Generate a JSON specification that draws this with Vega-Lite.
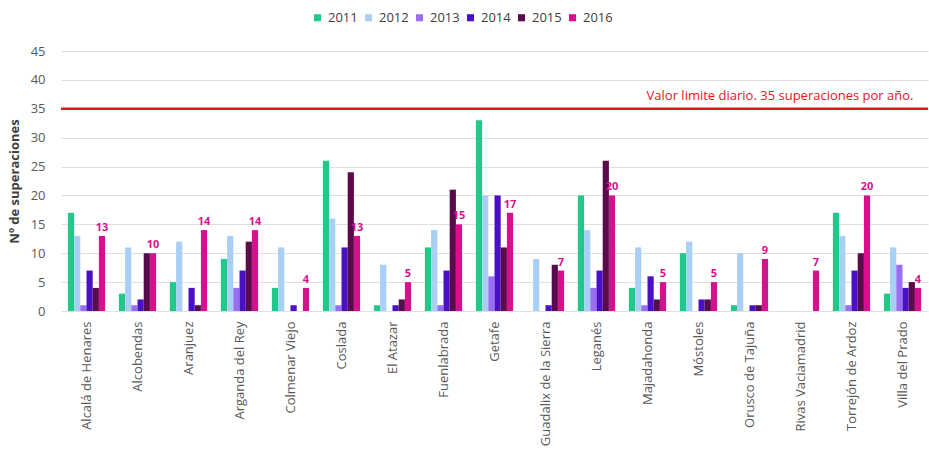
{
  "$schema": "https://vega.github.io/schema/vega-lite/v6.json",
  "width": 867,
  "height": 260,
  "autosize": {"type": "none"},
  "padding": {"left": 61, "top": 51, "right": 1, "bottom": 143},
  "background": "white",
  "config": {
    "font": "Open Sans",
    "view": {"stroke": null},
    "axis": {"labelFont": "Open Sans", "titleFont": "Open Sans"}
  },
  "datasets": {
    "d": [
      {"m": "Alcalá de Henares", "y": "2011", "v": 17}, {"m": "Alcalá de Henares", "y": "2012", "v": 13}, {"m": "Alcalá de Henares", "y": "2013", "v": 1}, {"m": "Alcalá de Henares", "y": "2014", "v": 7}, {"m": "Alcalá de Henares", "y": "2015", "v": 4}, {"m": "Alcalá de Henares", "y": "2016", "v": 13},
      {"m": "Alcobendas", "y": "2011", "v": 3}, {"m": "Alcobendas", "y": "2012", "v": 11}, {"m": "Alcobendas", "y": "2013", "v": 1}, {"m": "Alcobendas", "y": "2014", "v": 2}, {"m": "Alcobendas", "y": "2015", "v": 10}, {"m": "Alcobendas", "y": "2016", "v": 10},
      {"m": "Aranjuez", "y": "2011", "v": 5}, {"m": "Aranjuez", "y": "2012", "v": 12}, {"m": "Aranjuez", "y": "2013", "v": 0}, {"m": "Aranjuez", "y": "2014", "v": 4}, {"m": "Aranjuez", "y": "2015", "v": 1}, {"m": "Aranjuez", "y": "2016", "v": 14},
      {"m": "Arganda del Rey", "y": "2011", "v": 9}, {"m": "Arganda del Rey", "y": "2012", "v": 13}, {"m": "Arganda del Rey", "y": "2013", "v": 4}, {"m": "Arganda del Rey", "y": "2014", "v": 7}, {"m": "Arganda del Rey", "y": "2015", "v": 12}, {"m": "Arganda del Rey", "y": "2016", "v": 14},
      {"m": "Colmenar Viejo", "y": "2011", "v": 4}, {"m": "Colmenar Viejo", "y": "2012", "v": 11}, {"m": "Colmenar Viejo", "y": "2013", "v": 0}, {"m": "Colmenar Viejo", "y": "2014", "v": 1}, {"m": "Colmenar Viejo", "y": "2015", "v": 0}, {"m": "Colmenar Viejo", "y": "2016", "v": 4},
      {"m": "Coslada", "y": "2011", "v": 26}, {"m": "Coslada", "y": "2012", "v": 16}, {"m": "Coslada", "y": "2013", "v": 1}, {"m": "Coslada", "y": "2014", "v": 11}, {"m": "Coslada", "y": "2015", "v": 24}, {"m": "Coslada", "y": "2016", "v": 13},
      {"m": "El Atazar", "y": "2011", "v": 1}, {"m": "El Atazar", "y": "2012", "v": 8}, {"m": "El Atazar", "y": "2013", "v": 0}, {"m": "El Atazar", "y": "2014", "v": 1}, {"m": "El Atazar", "y": "2015", "v": 2}, {"m": "El Atazar", "y": "2016", "v": 5},
      {"m": "Fuenlabrada", "y": "2011", "v": 11}, {"m": "Fuenlabrada", "y": "2012", "v": 14}, {"m": "Fuenlabrada", "y": "2013", "v": 1}, {"m": "Fuenlabrada", "y": "2014", "v": 7}, {"m": "Fuenlabrada", "y": "2015", "v": 21}, {"m": "Fuenlabrada", "y": "2016", "v": 15},
      {"m": "Getafe", "y": "2011", "v": 33}, {"m": "Getafe", "y": "2012", "v": 20}, {"m": "Getafe", "y": "2013", "v": 6}, {"m": "Getafe", "y": "2014", "v": 20}, {"m": "Getafe", "y": "2015", "v": 11}, {"m": "Getafe", "y": "2016", "v": 17},
      {"m": "Guadalix de la Sierra", "y": "2011", "v": 0}, {"m": "Guadalix de la Sierra", "y": "2012", "v": 9}, {"m": "Guadalix de la Sierra", "y": "2013", "v": 0}, {"m": "Guadalix de la Sierra", "y": "2014", "v": 1}, {"m": "Guadalix de la Sierra", "y": "2015", "v": 8}, {"m": "Guadalix de la Sierra", "y": "2016", "v": 7},
      {"m": "Leganés", "y": "2011", "v": 20}, {"m": "Leganés", "y": "2012", "v": 14}, {"m": "Leganés", "y": "2013", "v": 4}, {"m": "Leganés", "y": "2014", "v": 7}, {"m": "Leganés", "y": "2015", "v": 26}, {"m": "Leganés", "y": "2016", "v": 20},
      {"m": "Majadahonda", "y": "2011", "v": 4}, {"m": "Majadahonda", "y": "2012", "v": 11}, {"m": "Majadahonda", "y": "2013", "v": 1}, {"m": "Majadahonda", "y": "2014", "v": 6}, {"m": "Majadahonda", "y": "2015", "v": 2}, {"m": "Majadahonda", "y": "2016", "v": 5},
      {"m": "Móstoles", "y": "2011", "v": 10}, {"m": "Móstoles", "y": "2012", "v": 12}, {"m": "Móstoles", "y": "2013", "v": 0}, {"m": "Móstoles", "y": "2014", "v": 2}, {"m": "Móstoles", "y": "2015", "v": 2}, {"m": "Móstoles", "y": "2016", "v": 5},
      {"m": "Orusco de Tajuña", "y": "2011", "v": 1}, {"m": "Orusco de Tajuña", "y": "2012", "v": 10}, {"m": "Orusco de Tajuña", "y": "2013", "v": 0}, {"m": "Orusco de Tajuña", "y": "2014", "v": 1}, {"m": "Orusco de Tajuña", "y": "2015", "v": 1}, {"m": "Orusco de Tajuña", "y": "2016", "v": 9},
      {"m": "Rivas Vaciamadrid", "y": "2011", "v": 0}, {"m": "Rivas Vaciamadrid", "y": "2012", "v": 0}, {"m": "Rivas Vaciamadrid", "y": "2013", "v": 0}, {"m": "Rivas Vaciamadrid", "y": "2014", "v": 0}, {"m": "Rivas Vaciamadrid", "y": "2015", "v": 0}, {"m": "Rivas Vaciamadrid", "y": "2016", "v": 7},
      {"m": "Torrejón de Ardoz", "y": "2011", "v": 17}, {"m": "Torrejón de Ardoz", "y": "2012", "v": 13}, {"m": "Torrejón de Ardoz", "y": "2013", "v": 1}, {"m": "Torrejón de Ardoz", "y": "2014", "v": 7}, {"m": "Torrejón de Ardoz", "y": "2015", "v": 10}, {"m": "Torrejón de Ardoz", "y": "2016", "v": 20},
      {"m": "Villa del Prado", "y": "2011", "v": 3}, {"m": "Villa del Prado", "y": "2012", "v": 11}, {"m": "Villa del Prado", "y": "2013", "v": 8}, {"m": "Villa del Prado", "y": "2014", "v": 4}, {"m": "Villa del Prado", "y": "2015", "v": 5}, {"m": "Villa del Prado", "y": "2016", "v": 4}
    ],
    "lim": [{"v": 35, "label": "Valor limite diario. 35 superaciones por año.", "m": "Villa del Prado"}]
  },
  "encoding": {
    "y": {
      "field": "v", "type": "quantitative",
      "scale": {"domain": [0, 45], "nice": false},
      "axis": {"title": "Nº de superaciones", "titleFontSize": 13, "titleFontWeight": "bold", "titleColor": "#404040", "titlePadding": 9, "values": [0, 5, 10, 15, 20, 25, 30, 35, 40, 45], "labelOverlap": false, "labelFontSize": 13, "labelColor": "#595959", "ticks": false, "domain": false, "gridColor": "#e0e0e0", "labelPadding": 16}
    }
  },
  "layer": [
    {
      "data": {"name": "d"},
      "mark": {"type": "bar"},
      "encoding": {
        "x": {
          "field": "m", "type": "nominal", "sort": null,
          "scale": {"paddingInner": 0.27, "paddingOuter": 0.135},
          "axis": {"title": null, "labelAngle": -90, "labelFontSize": 13, "labelColor": "#595959", "ticks": false, "domain": false, "labelPadding": 10, "labelLimit": 200}
        },
        "xOffset": {"field": "y", "type": "nominal", "scale": {"paddingInner": 0, "paddingOuter": 0}},
        "color": {
          "field": "y", "type": "nominal",
          "scale": {"domain": ["2011", "2012", "2013", "2014", "2015", "2016"], "range": ["#20c98a", "#a9cff5", "#9a6ef2", "#4a10c6", "#590b4b", "#d5128e"]},
          "legend": {"title": null, "orient": "none", "legendX": 250, "legendY": -40, "direction": "horizontal", "symbolType": "square", "symbolSize": 50, "labelFontSize": 13, "labelColor": "#404040", "columnPadding": 4, "labelOffset": 4}
        }
      }
    },
    {
      "data": {"name": "d"},
      "transform": [{"filter": "datum.y == '2016'"}],
      "mark": {"type": "text", "dy": -8, "fontSize": 11, "fontWeight": "bold", "color": "#d5128e"},
      "encoding": {
        "x": {"field": "m", "type": "nominal", "sort": null},
        "xOffset": {"field": "y", "type": "nominal"},
        "text": {"field": "v", "type": "quantitative"}
      }
    },
    {
      "data": {"name": "lim"},
      "mark": {"type": "rule", "color": "#e8141b", "strokeWidth": 2.5},
      "encoding": {}
    },
    {
      "data": {"name": "lim"},
      "mark": {"type": "text", "align": "right", "dy": -13, "dx": 11, "fontSize": 13, "color": "#e8141b"},
      "encoding": {
        "x": {"field": "m", "type": "nominal", "sort": null},
        "text": {"field": "label"}
      }
    }
  ]
}
